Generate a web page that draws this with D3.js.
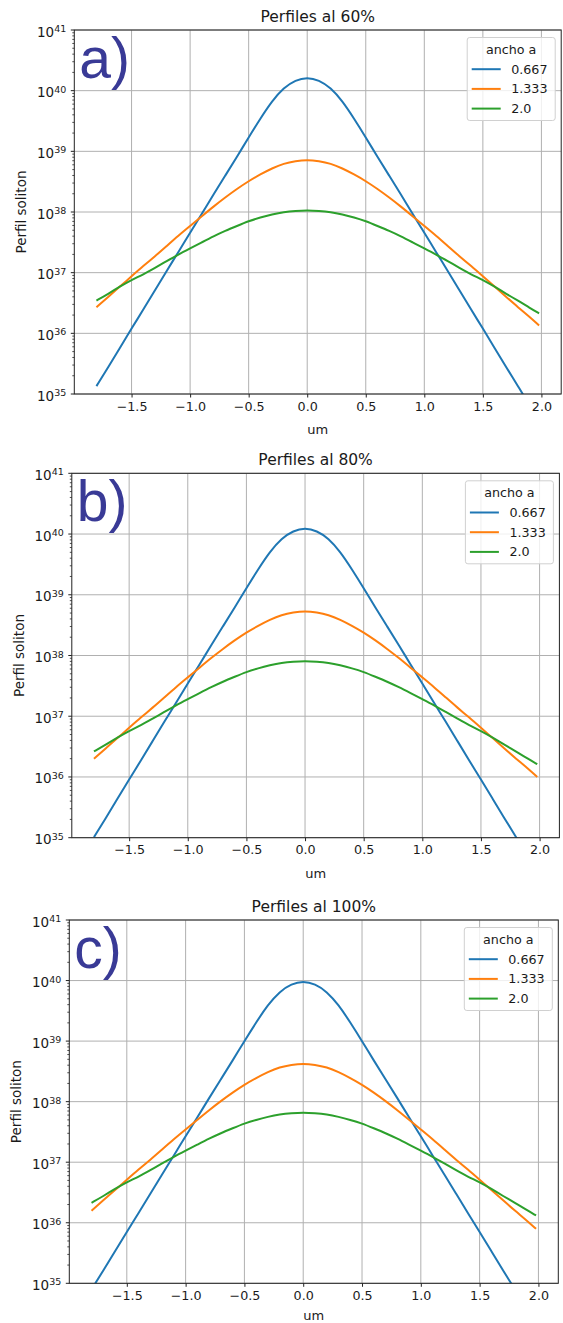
<!DOCTYPE html>
<html><head><meta charset="utf-8">
<script src="https://cdn.jsdelivr.net/npm/d3@7"></script>
<style>body{margin:0;background:#fff} svg{display:block}</style>
</head><body>
<svg id="chart" width="563" height="1323"></svg>
<script>
// ---------- data ----------
const xValues = [-1.8,-1.7,-1.6,-1.5,-1.4,-1.3,-1.2,-1.1,-1.0,-0.9,-0.8,-0.7,-0.6,-0.5,-0.4,-0.3,-0.2,-0.1,0,0.1,0.2,0.3,0.4,0.5,0.6,0.7,0.8,0.9,1.0,1.1,1.2,1.3,1.4,1.5,1.6,1.7,1.8,1.9,1.98];

const blueA = [1.349e35,2.754e35,5.754e35,1.202e36,2.455e36,5.129e36,1.072e37,2.188e37,4.571e37,9.333e37,1.950e38,3.981e38,8.128e38,1.698e39,3.467e39,6.76e39,1.122e40,1.50e40,1.66e40,1.50e40,1.122e40,6.76e39,3.467e39,1.698e39,8.128e38,3.981e38,1.950e38,9.333e37,4.571e37,2.188e37,1.072e37,5.129e36,2.455e36,1.202e36,5.754e35,2.754e35,1.349e35,6.457e34,3.631e34];
const orangeA = [2.692e36,3.981e36,5.888e36,8.710e36,1.288e37,1.862e37,2.754e37,4.074e37,5.888e37,8.511e37,1.230e38,1.738e38,2.399e38,3.236e38,4.169e38,5.248e38,6.310e38,6.918e38,7.24e38,6.918e38,6.310e38,5.248e38,4.169e38,3.236e38,2.399e38,1.738e38,1.230e38,8.511e37,5.888e37,4.074e37,2.754e37,1.862e37,1.288e37,8.710e36,5.888e36,3.981e36,2.692e36,1.862e36,1.349e36];
const greenA = [3.467e36,4.467e36,5.888e36,7.586e36,9.333e36,1.202e37,1.549e37,1.995e37,2.512e37,3.162e37,3.981e37,4.898e37,5.888e37,7.079e37,8.128e37,9.120e37,1.000e38,1.047e38,1.072e38,1.047e38,1.000e38,9.120e37,8.128e37,7.079e37,5.888e37,4.898e37,3.981e37,3.162e37,2.512e37,1.995e37,1.549e37,1.202e37,9.333e36,7.586e36,5.888e36,4.467e36,3.467e36,2.630e36,2.138e36];

const blueB = [1.023e35,2.089e35,4.365e35,9.120e35,1.862e36,3.890e36,8.128e36,1.660e37,3.467e37,7.079e37,1.479e38,3.020e38,6.166e38,1.288e39,2.630e39,5.129e39,8.511e39,1.135e40,1.259e40,1.135e40,8.511e39,5.129e39,2.630e39,1.288e39,6.166e38,3.020e38,1.479e38,7.079e37,3.467e37,1.660e37,8.128e36,3.890e36,1.862e36,9.120e35,4.365e35,2.089e35,1.023e35,4.898e34,2.754e34];
const orangeB = [1.995e36,2.951e36,4.365e36,6.457e36,9.550e36,1.380e37,2.042e37,3.020e37,4.365e37,6.310e37,9.120e37,1.288e38,1.778e38,2.399e38,3.090e38,3.890e38,4.677e38,5.129e38,5.370e38,5.129e38,4.677e38,3.890e38,3.090e38,2.399e38,1.778e38,1.288e38,9.120e37,6.310e37,4.365e37,3.020e37,2.042e37,1.380e37,9.550e36,6.457e36,4.365e36,2.951e36,1.995e36,1.380e36,1.000e36];
const greenB = [2.630e36,3.388e36,4.467e36,5.754e36,7.079e36,9.120e36,1.175e37,1.514e37,1.905e37,2.399e37,3.020e37,3.715e37,4.467e37,5.370e37,6.166e37,6.918e37,7.586e37,7.943e37,8.128e37,7.943e37,7.586e37,6.918e37,6.166e37,5.370e37,4.467e37,3.715e37,3.020e37,2.399e37,1.905e37,1.514e37,1.175e37,9.120e36,7.079e36,5.754e36,4.467e36,3.388e36,2.630e36,1.995e36,1.622e36];

const blueC = [7.943e34,1.622e35,3.388e35,7.079e35,1.445e36,3.020e36,6.310e36,1.288e37,2.692e37,5.495e37,1.148e38,2.344e38,4.786e38,1.000e39,2.042e39,3.981e39,6.607e39,8.81e39,9.772e39,8.81e39,6.607e39,3.981e39,2.042e39,1.000e39,4.786e38,2.344e38,1.148e38,5.495e37,2.692e37,1.288e37,6.310e36,3.020e36,1.445e36,7.079e35,3.388e35,1.622e35,7.943e34,3.802e34,2.138e34];
const orangeC = [1.585e36,2.344e36,3.467e36,5.129e36,7.586e36,1.096e37,1.622e37,2.399e37,3.467e37,5.012e37,7.244e37,1.023e38,1.413e38,1.905e38,2.455e38,3.090e38,3.715e38,4.074e38,4.266e38,4.074e38,3.715e38,3.090e38,2.455e38,1.905e38,1.413e38,1.023e38,7.244e37,5.012e37,3.467e37,2.399e37,1.622e37,1.096e37,7.586e36,5.129e36,3.467e36,2.344e36,1.585e36,1.096e36,7.943e35];
const greenC = [2.138e36,2.754e36,3.631e36,4.677e36,5.754e36,7.413e36,9.550e36,1.230e37,1.549e37,1.950e37,2.455e37,3.020e37,3.631e37,4.365e37,5.012e37,5.623e37,6.166e37,6.457e37,6.607e37,6.457e37,6.166e37,5.623e37,5.012e37,4.365e37,3.631e37,3.020e37,2.455e37,1.950e37,1.549e37,1.230e37,9.550e36,7.413e36,5.754e36,4.677e36,3.631e36,2.754e36,2.138e36,1.622e36,1.318e36];

const titles = ["Perfiles al 60%", "Perfiles al 80%", "Perfiles al 100%"];
const panelLabels = ["a)", "b)", "c)"];
const seriesNames = ["0.667", "1.333", "2.0"];
const legendTitle = "ancho a";
const xTicks = [-1.5,-1.0,-0.5,0.0,0.5,1.0,1.5,2.0];
const yTickExps = [35,36,37,38,39,40,41];
const xLabel = "um";
const yLabel = "Perfil soliton";

// ---------- layout / style ----------
const colors = ["#1f77b4", "#ff7f0e", "#2ca02c"];
const panels = [
  {series:[blueA, orangeA, greenA], left:74.3, right:561.2, top:30, bottom:394},
  {series:[blueB, orangeB, greenB], left:71.8, right:559.4, top:473.3, bottom:837.7},
  {series:[blueC, orangeC, greenC], left:69.3, right:558.3, top:920, bottom:1283.3}
];
const svg = d3.select("#chart");
const font = "DejaVu Sans, sans-serif";
const textCol = "#1a1a1a";

panels.forEach((p, i) => {
  const x = d3.scaleLinear().domain([-1.989, 2.169]).range([p.left, p.right]);
  const y = d3.scaleLog().domain([1e35, 1e41]).range([p.bottom, p.top]);
  const g = svg.append("g");

  // clip
  const cid = "clip" + i;
  svg.append("defs").append("clipPath").attr("id", cid)
    .append("rect").attr("x", p.left).attr("y", p.top)
    .attr("width", p.right - p.left).attr("height", p.bottom - p.top);

  // grid
  g.append("g").selectAll("line").data(xTicks).join("line")
    .attr("x1", d => x(d)).attr("x2", d => x(d)).attr("y1", p.top).attr("y2", p.bottom)
    .attr("stroke", "#b0b0b0").attr("stroke-width", 1);
  g.append("g").selectAll("line").data(yTickExps).join("line")
    .attr("x1", p.left).attr("x2", p.right).attr("y1", d => y(Math.pow(10, d))).attr("y2", d => y(Math.pow(10, d)))
    .attr("stroke", "#b0b0b0").attr("stroke-width", 1);

  // lines
  const line = d3.line().x((d, k) => x(xValues[k])).y(d => y(d)).curve(d3.curveBasis);
  const lg = g.append("g").attr("clip-path", `url(#${cid})`);
  p.series.forEach((s, k) => {
    lg.append("path").datum(s).attr("d", line).attr("fill", "none")
      .attr("stroke", colors[k]).attr("stroke-width", 2).attr("stroke-linejoin", "round");
  });

  // x axis
  const xa = g.append("g").attr("transform", `translate(0,${p.bottom})`)
    .call(d3.axisBottom(x).tickValues(xTicks).tickSize(3.5).tickPadding(4)
      .tickFormat(d => d3.format(".1f")(d).replace("-", "\u2212")));
  xa.select(".domain").remove();
  xa.selectAll("line").attr("stroke", "#222");
  xa.selectAll("text").attr("font-family", font).attr("font-size", 12.7).attr("fill", textCol)
    .attr("dy", "0.71em");

  // y axis major + minor ticks
  const minor = [];
  for (let e = 35; e < 41; e++) for (let m = 2; m <= 9; m++) minor.push(m * Math.pow(10, e));
  g.append("g").selectAll("line").data(minor).join("line")
    .attr("x1", p.left - 2).attr("x2", p.left).attr("y1", d => y(d)).attr("y2", d => y(d))
    .attr("stroke", "#222").attr("stroke-width", 0.8);
  g.append("g").selectAll("line").data(yTickExps).join("line")
    .attr("x1", p.left - 3.5).attr("x2", p.left).attr("y1", d => y(Math.pow(10, d))).attr("y2", d => y(Math.pow(10, d)))
    .attr("stroke", "#222").attr("stroke-width", 1);
  const yl = g.append("g").selectAll("text").data(yTickExps).join("text")
    .attr("x", p.left - 8).attr("y", d => y(Math.pow(10, d)) + 6.5)
    .attr("text-anchor", "end").attr("font-family", font).attr("fill", textCol);
  yl.append("tspan").attr("font-size", 13.5).text("10");
  yl.append("tspan").attr("font-size", 9.5).attr("dy", -4.5).text(d => d);

  // frame
  g.append("rect").attr("x", p.left).attr("y", p.top).attr("width", p.right - p.left).attr("height", p.bottom - p.top)
    .attr("fill", "none").attr("stroke", "#222").attr("stroke-width", 1);

  // title and labels
  const cx = (p.left + p.right) / 2;
  g.append("text").attr("x", cx).attr("y", p.top - 8.5).attr("text-anchor", "middle")
    .attr("font-family", font).attr("font-size", 15.5).attr("fill", textCol).text(titles[i]);
  g.append("text").attr("x", cx).attr("y", Math.min(p.bottom + 40, 1320)).attr("text-anchor", "middle")
    .attr("font-family", font).attr("font-size", 13).attr("fill", textCol).text(xLabel);
  g.append("text").attr("transform", `translate(${p.left - 53},${(p.top + p.bottom) / 2}) rotate(-90)`)
    .attr("text-anchor", "middle").attr("dy", "0.35em")
    .attr("font-family", font).attr("font-size", 13.5).attr("fill", textCol).text(yLabel);

  // panel label
  g.append("text").attr("x", p.left + 5).attr("y", p.top + 48)
    .attr("font-family", "Liberation Sans, Arial, sans-serif").attr("font-size", 57)
    .attr("fill", "#393a96").text(panelLabels[i]);

  // legend
  const bw = 88, bh = 83;
  const bx = p.right - 6 - bw, by = p.top + 7.5;
  const leg = g.append("g");
  leg.append("rect").attr("x", bx).attr("y", by).attr("width", bw).attr("height", bh).attr("rx", 2.5)
    .attr("fill", "#fff").attr("fill-opacity", 0.8).attr("stroke", "#d0d0d0").attr("stroke-width", 1);
  leg.append("text").attr("x", bx + bw / 2).attr("y", by + 16.5).attr("text-anchor", "middle")
    .attr("font-family", font).attr("font-size", 12.7).attr("fill", textCol).text(legendTitle);
  seriesNames.forEach((n, k) => {
    const ly = by + 31.7 + k * 19.7;
    leg.append("line").attr("x1", bx + 4.5).attr("x2", bx + 33.5).attr("y1", ly).attr("y2", ly)
      .attr("stroke", colors[k]).attr("stroke-width", 2);
    leg.append("text").attr("x", bx + 44).attr("y", ly + 4.5)
      .attr("font-family", font).attr("font-size", 12.7).attr("fill", textCol).text(n);
  });
});
</script>
</body></html>
